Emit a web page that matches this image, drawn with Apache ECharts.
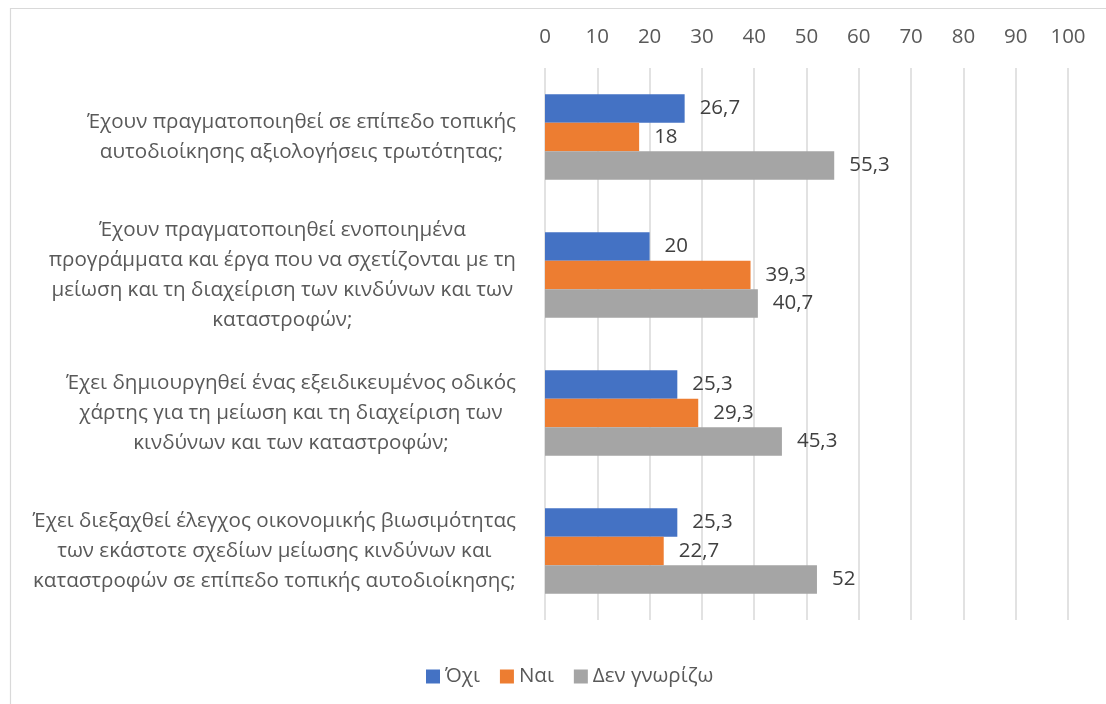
<!DOCTYPE html>
<html>
<head>
<meta charset="utf-8">
<script src="https://cdn.jsdelivr.net/npm/echarts@6/dist/echarts.min.js"></script>
<style>
  html, body { margin: 0; padding: 0; background: #fff; }
  #chart { width: 1106px; height: 704px; }
</style>
</head>
<body>
<div id="chart"></div>
<script>
// κατηγορίες (ερωτήσεις), από πάνω προς τα κάτω
const categories = [
  'Έχουν πραγματοποιηθεί σε επίπεδο τοπικής\nαυτοδιοίκησης αξιολογήσεις τρωτότητας;',
  'Έχουν πραγματοποιηθεί ενοποιημένα\nπρογράμματα και έργα που να σχετίζονται με τη\nμείωση και τη διαχείριση των κινδύνων και των\nκαταστροφών;',
  'Έχει δημιουργηθεί ένας εξειδικευμένος οδικός\nχάρτης για τη μείωση και τη διαχείριση των\nκινδύνων και των καταστροφών;',
  'Έχει διεξαχθεί έλεγχος οικονομικής βιωσιμότητας\nτων εκάστοτε σχεδίων μείωσης κινδύνων και\nκαταστροφών σε επίπεδο τοπικής αυτοδιοίκησης;'
]
const seriesNames = ['Όχι', 'Ναι', 'Δεν γνωρίζω']
const valuesOxi = [26.7, 20, 25.3, 25.3]
const valuesNai = [18, 39.3, 29.3, 22.7]
const valuesDen = [55.3, 40.7, 45.3, 52]
const colors = ['#4472C4', '#ED7D31', '#A5A5A5']

const FONT = 'Open Sans'

const chart = echarts.init(document.getElementById('chart'))

const makeSeries = (name, data, color) => ({
  name: name,
  type: 'bar',
  data: data,
  barGap: '0%',
  barCategoryGap: '38%',
  itemStyle: { color: color },
  label: {
    show: true,
    position: 'right',
    distance: 15,
    color: '#404040',
    fontSize: 20.5,
    fontFamily: FONT,
    formatter: p => String(p.value).replace('.', ',')
  }
})

chart.setOption({
  animation: false,
  textStyle: { fontFamily: FONT },
  graphic: [{
    type: 'rect',
    left: 8,
    top: 6,
    shape: { width: 1200, height: 800 },
    style: { fill: 'none', stroke: '#d9d9d9', lineWidth: 1.2 },
    silent: true
  }],
  grid: {
    left: 545,
    right: 38,
    top: 68,
    bottom: 84,
    containLabel: false
  },
  legend: {
    data: seriesNames,
    left: 421,
    top: 661,
    icon: 'rect',
    itemWidth: 14,
    itemHeight: 14,
    itemGap: 20,
    textStyle: { color: '#595959', fontSize: 20.5, fontFamily: FONT }
  },
  xAxis: {
    type: 'value',
    position: 'top',
    min: 0,
    max: 100,
    interval: 10,
    axisLine: { show: false },
    axisTick: { show: false },
    axisLabel: { color: '#595959', fontSize: 20.5, fontFamily: FONT, margin: 20 },
    splitLine: { show: true, lineStyle: { color: '#d9d9d9', width: 1.5 } }
  },
  yAxis: {
    type: 'category',
    inverse: true,
    data: categories,
    axisLine: { show: false },
    axisTick: { show: false },
    axisLabel: {
      margin: 29,
      align: 'right',
      formatter: v => v.split('\n').map(l => '{c|' + l + '}').join('\n'),
      rich: {
        c: { align: 'center', color: '#595959', fontSize: 20.6, lineHeight: 30, fontFamily: FONT }
      }
    }
  },
  series: [
    makeSeries(seriesNames[0], valuesOxi, colors[0]),
    makeSeries(seriesNames[1], valuesNai, colors[1]),
    makeSeries(seriesNames[2], valuesDen, colors[2])
  ]
})
</script>
</body>
</html>
